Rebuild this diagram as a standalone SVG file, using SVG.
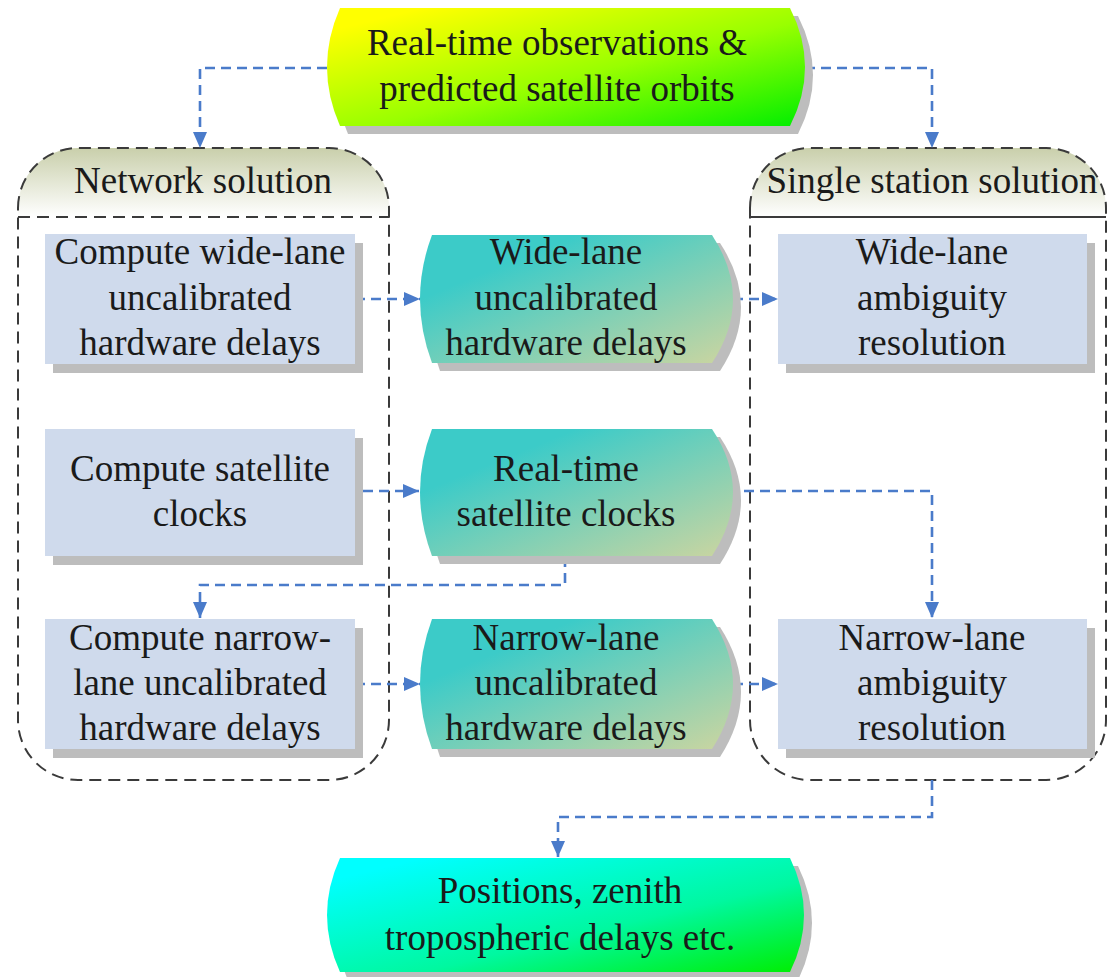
<svg xmlns="http://www.w3.org/2000/svg" width="1108" height="977" viewBox="0 0 1108 977">
<style>
text{font-family:"Liberation Serif","Times New Roman",serif;font-size:37px;fill:#1a1a1a;text-anchor:middle}
.box{fill:#cfdaec}
.shadow{fill:#bdbdbd}
.cont{fill:none;stroke:#3a3a3a;stroke-width:2;stroke-dasharray:12 7}
.conn{fill:none;stroke:#4a7bca;stroke-width:2.6;stroke-dasharray:10 6;marker-end:url(#arr)}
.connn{fill:none;stroke:#4a7bca;stroke-width:2.6;stroke-dasharray:10 6}
</style>
<defs>
<marker id="arr" viewBox="0 0 16 14" refX="16" refY="7" markerWidth="16" markerHeight="14" orient="auto" markerUnits="userSpaceOnUse">
<path d="M0,0 L16,7 L0,14 Z" fill="#4a7bca"/>
</marker>
<linearGradient id="gTop" x1="0" y1="0" x2="1" y2="1">
<stop offset="0.1" stop-color="#ffff00"/>
<stop offset="0.55" stop-color="#99ff00"/>
<stop offset="1" stop-color="#00ee00"/>
</linearGradient>
<linearGradient id="gBot" x1="0" y1="0" x2="1" y2="1">
<stop offset="0.1" stop-color="#00ffff"/>
<stop offset="0.6" stop-color="#00f8a0"/>
<stop offset="1" stop-color="#00ee00"/>
</linearGradient>
<linearGradient id="gTeal" x1="0" y1="0" x2="1" y2="1">
<stop offset="0.25" stop-color="#3ccbc8"/>
<stop offset="1" stop-color="#ccd5a0"/>
</linearGradient>
<linearGradient id="gHead" x1="0" y1="0" x2="0" y2="1">
<stop offset="0" stop-color="#c9cfab"/>
<stop offset="1" stop-color="#ffffff"/>
</linearGradient>
<path id="barrelTop" d="M340,8 L790,8 Q820,67 790,126 L340,126 Q314,67 340,8 Z"/>
</defs>
<rect width="1108" height="977" fill="#ffffff"/>

<g id="network-solution">
<path d="M18,217 L18,208 A60,60 0 0 1 78,148 L329,148 A60,60 0 0 1 389,208 L389,217 Z" fill="url(#gHead)"/>
<path class="cont" d="M18,208 A60,60 0 0 1 78,148 L329,148 A60,60 0 0 1 389,208 L389,720 A60,60 0 0 1 329,780 L78,780 A60,60 0 0 1 18,720 Z"/>
<line class="cont" x1="18" y1="217" x2="389" y2="217"/>
<text x="203" y="193">Network solution</text>
</g>

<g id="single-station-solution">
<path d="M750,217 L750,208 A60,60 0 0 1 810,148 L1046,148 A60,60 0 0 1 1106,208 L1106,217 Z" fill="url(#gHead)"/>
<path class="cont" d="M750,208 A60,60 0 0 1 810,148 L1046,148 A60,60 0 0 1 1106,208 L1106,720 A60,60 0 0 1 1046,780 L810,780 A60,60 0 0 1 750,720 Z"/>
<line x1="750" y1="217" x2="1106" y2="217" stroke="#3a3a3a" stroke-width="2"/>
<text x="932" y="193">Single station solution</text>
</g>

<g id="connectors">
<path class="conn" d="M327,68 L200,68 L200,148"/>
<path class="conn" d="M805,68 L932,68 L932,148"/>
<path class="conn" d="M355,299 L420,299"/>
<path class="conn" d="M733,299 L778,299"/>
<path class="conn" d="M363,491 L419,491"/>
<path class="conn" d="M728,491 L932,491 L932,618"/>
<path class="conn" d="M565,557 L565,585 L200,585 L200,618"/>
<path class="conn" d="M355,684 L420,684"/>
<path class="conn" d="M733,684 L778,684"/>
<path class="conn" d="M932,780 L932,817 L558,817 L558,857"/>
</g>

<g id="realtime-observations">
<use href="#barrelTop" class="shadow" transform="translate(8,8)"/>
<use href="#barrelTop" fill="url(#gTop)"/>
<text x="557" y="55">Real-time observations &amp;</text>
<text x="557" y="101">predicted satellite orbits</text>
</g>

<g id="compute-wl">
<rect class="shadow" x="53" y="243" width="310" height="130"/>
<rect class="box" x="45" y="234" width="310" height="130"/>
<text x="200" y="264">Compute wide-lane</text>
<text x="200" y="310">uncalibrated</text>
<text x="200" y="355">hardware delays</text>
</g>

<g id="compute-clocks">
<rect class="shadow" x="53" y="438" width="310" height="127"/>
<rect class="box" x="45" y="429" width="310" height="127"/>
<text x="200" y="481">Compute satellite</text>
<text x="200" y="526">clocks</text>
</g>

<g id="compute-nl">
<rect class="shadow" x="53" y="628" width="310" height="130"/>
<rect class="box" x="45" y="619" width="310" height="130"/>
<text x="200" y="650">Compute narrow-</text>
<text x="200" y="695">lane uncalibrated</text>
<text x="200" y="740">hardware delays</text>
</g>

<g id="wl-uhd">
<path class="shadow" transform="translate(8,8)" d="M432,235 L712,235 Q754,299 712,363 L432,363 Q408,299 432,235 Z"/>
<path fill="url(#gTeal)" d="M432,235 L712,235 Q754,299 712,363 L432,363 Q408,299 432,235 Z"/>
<text x="566" y="264">Wide-lane</text>
<text x="566" y="310">uncalibrated</text>
<text x="566" y="355">hardware delays</text>
</g>

<g id="rt-clocks">
<path class="shadow" transform="translate(8,8)" d="M432,429 L712,429 Q754,492 712,556 L432,556 Q408,492 432,429 Z"/>
<path fill="url(#gTeal)" d="M432,429 L712,429 Q754,492 712,556 L432,556 Q408,492 432,429 Z"/>
<text x="566" y="481">Real-time</text>
<text x="566" y="526">satellite clocks</text>
</g>

<g id="nl-uhd">
<path class="shadow" transform="translate(8,8)" d="M432,619 L712,619 Q754,684 712,749 L432,749 Q408,684 432,619 Z"/>
<path fill="url(#gTeal)" d="M432,619 L712,619 Q754,684 712,749 L432,749 Q408,684 432,619 Z"/>
<text x="566" y="650">Narrow-lane</text>
<text x="566" y="695">uncalibrated</text>
<text x="566" y="740">hardware delays</text>
</g>

<g id="wl-ar">
<rect class="shadow" x="786" y="243" width="309" height="130"/>
<rect class="box" x="778" y="234" width="309" height="130"/>
<text x="932" y="264">Wide-lane</text>
<text x="932" y="310">ambiguity</text>
<text x="932" y="355">resolution</text>
</g>

<g id="nl-ar">
<rect class="shadow" x="786" y="628" width="309" height="130"/>
<rect class="box" x="778" y="619" width="309" height="130"/>
<text x="932" y="650">Narrow-lane</text>
<text x="932" y="695">ambiguity</text>
<text x="932" y="740">resolution</text>
</g>

<g id="positions">
<path class="shadow" transform="translate(8,8)" d="M340,858 L790,858 Q818,915 790,972 L340,972 Q314,915 340,858 Z"/>
<path fill="url(#gBot)" d="M340,858 L790,858 Q818,915 790,972 L340,972 Q314,915 340,858 Z"/>
<text x="560" y="903">Positions, zenith</text>
<text x="560" y="950">tropospheric delays etc.</text>
</g>
</svg>
